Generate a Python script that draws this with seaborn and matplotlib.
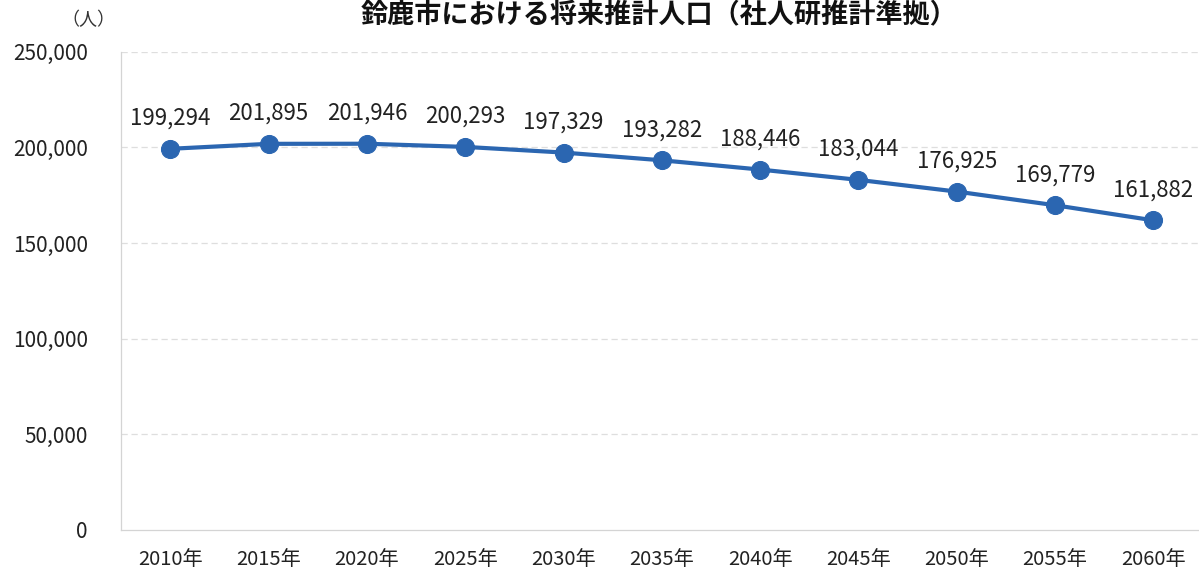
import matplotlib
matplotlib.use("Agg")
import matplotlib.pyplot as plt
import seaborn as sns
import pandas as pd

years = ["2010年", "2015年", "2020年", "2025年", "2030年", "2035年",
         "2040年", "2045年", "2050年", "2055年", "2060年"]
population = [199294, 201895, 201946, 200293, 197329, 193282,
              188446, 183044, 176925, 169779, 161882]
y_ticks = [0, 50000, 100000, 150000, 200000, 250000]
title = "鈴鹿市における将来推計人口（社人研推計準拠）"
unit = "（人）"

sns.set_theme(style="white")
plt.rcParams["font.family"] = ["Noto Sans CJK JP", "DejaVu Sans"]

df = pd.DataFrame({"year": years, "pop": population})
df["x"] = range(len(df))

fig = plt.figure(figsize=(11.99, 5.76), dpi=100)
ax = fig.add_axes([0.101, 0.08, 0.902, 0.83])

line_color = "#2B66B1"
sns.lineplot(data=df, x="x", y="pop", ax=ax, color=line_color, linewidth=3,
             marker="o", markersize=13, markeredgecolor=line_color,
             markerfacecolor=line_color)

for xi, v in zip(df["x"], df["pop"]):
    ax.annotate(f"{v:,}", (xi, v), xytext=(0, 22), textcoords="offset points",
                ha="center", va="center", fontsize=16, color="#222222")

ax.set_xlim(-0.5, len(years) - 0.5)
ax.set_ylim(0, 250000)
ax.set_yticks(y_ticks)
ax.set_yticklabels([f"{t:,}" for t in y_ticks], fontsize=15, color="#222222")
ax.set_xticks(df["x"])
ax.set_xticklabels(years, fontsize=14.5, color="#222222")
ax.tick_params(axis="y", length=0, pad=24)
ax.tick_params(axis="x", length=0, pad=14)
ax.set_xlabel("")
ax.set_ylabel("")

for t in y_ticks[1:]:
    ax.axhline(t, color="#dedede", linewidth=0.9, linestyle=(0, (5, 3)), zorder=0)

for side in ["top", "right"]:
    ax.spines[side].set_visible(False)
for side in ["left", "bottom"]:
    ax.spines[side].set_color("#d4d4d4")
    ax.spines[side].set_linewidth(0.9)

fig.text(0.074, 0.965, unit, fontsize=13, ha="center", va="center", color="#333333")
fig.text(0.55, 0.998, title, fontsize=19.5, fontweight="bold", ha="center",
         va="top", color="#111111")

fig.savefig("out.png", dpi=100, facecolor="white")
